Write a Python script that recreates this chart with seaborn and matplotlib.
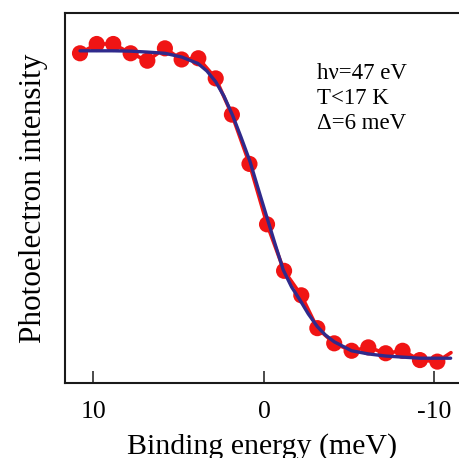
import numpy as np
import pandas as pd
import seaborn as sns
import matplotlib
matplotlib.use("Agg")
import matplotlib.pyplot as plt

# measured points (binding energy in meV, normalised intensity)
energy = [10.79, 9.81, 8.84, 7.82, 6.84, 5.81, 4.83, 3.85, 2.83, 1.88, 0.85,
          -0.18, -1.18, -2.19, -3.13, -4.12, -5.14, -6.12, -7.14, -8.13, -9.15, -10.17]
intensity = [0.980, 1.010, 1.010, 0.980, 0.956, 0.996, 0.960, 0.964, 0.899, 0.782, 0.623,
             0.428, 0.278, 0.199, 0.093, 0.044, 0.020, 0.031, 0.012, 0.020, -0.010, -0.015]

# red line runs a little past the last point
line_tail_x = [-10.97]
line_tail_y = [0.014]

# fitted curve
fit_energy = [10.79, 8.86, 7.86, 6.86, 5.81, 4.83, 3.87, 3.35, 2.83, 2.35, 1.85, 1.35,
              0.82, 0.35, -0.16, -0.65, -1.13, -1.62, -2.11, -2.60, -3.13, -3.60,
              -4.12, -5.14, -6.10, -7.14, -9.15, -10.95]
fit_intensity = [0.988, 0.988, 0.987, 0.984, 0.980, 0.968, 0.947, 0.923, 0.888, 0.842, 0.781, 0.710,
                 0.631, 0.545, 0.453, 0.365, 0.281, 0.226, 0.184, 0.139, 0.098, 0.071,
                 0.049, 0.020, 0.010, 0.003, -0.004, -0.004]

info_lines = ["h\u03bd=47 eV", "T<17 K", "\u0394=6 meV"]

sns.set_theme(style="white")
plt.rcParams['font.family'] = ['Liberation Serif', 'DejaVu Serif']
plt.rcParams['axes.unicode_minus'] = False
plt.rcParams['text.color'] = 'black'
plt.rcParams['axes.labelcolor'] = 'black'
plt.rcParams['xtick.color'] = 'black'

pts = pd.DataFrame({"E": energy, "I": intensity})
red_line = pd.DataFrame({"E": energy + line_tail_x, "I": intensity + line_tail_y})
fit = pd.DataFrame({"E": fit_energy, "I": fit_intensity})

fig = plt.figure(figsize=(4.59, 4.58), dpi=100)
ax = fig.add_axes([65 / 459, 75 / 458, 394 / 459, 370 / 458])

red = "#f01414"
sns.lineplot(data=red_line, x="E", y="I", sort=False, color=red, lw=2.6, ax=ax, zorder=2)
sns.scatterplot(data=pts, x="E", y="I", color=red, s=135, edgecolor="none", ax=ax, zorder=3)
sns.lineplot(data=fit, x="E", y="I", sort=False, color="#2f2a8c", lw=2.4, ax=ax, zorder=4)

ax.set_xlim(11.67, -11.44)
ax.set_ylim(-0.084, 1.110)
ax.set_xticks([10, 0, -10])
ax.set_xticklabels(["10", "0", "-10"])
ax.set_yticks([])
ax.tick_params(axis="x", direction="in", length=8.5, width=1.1, color="#1a1a1a",
               labelcolor="black", labelsize=18.5, pad=13, bottom=True)

for side in ["left", "bottom", "top"]:
    ax.spines[side].set_linewidth(1.5)
    ax.spines[side].set_color("#1a1a1a")
ax.spines["right"].set_visible(False)

ax.set_xlabel("Binding energy (meV)", fontsize=21.5, labelpad=7)
ax.set_ylabel("Photoelectron intensity", fontsize=22.5, labelpad=12)

for i, txt in enumerate(info_lines):
    ax.text(0.64, 0.821 - i * 0.0675, txt, transform=ax.transAxes,
            fontsize=16.5, va="baseline", ha="left", color="black")

fig.savefig("out.png", dpi=100)
